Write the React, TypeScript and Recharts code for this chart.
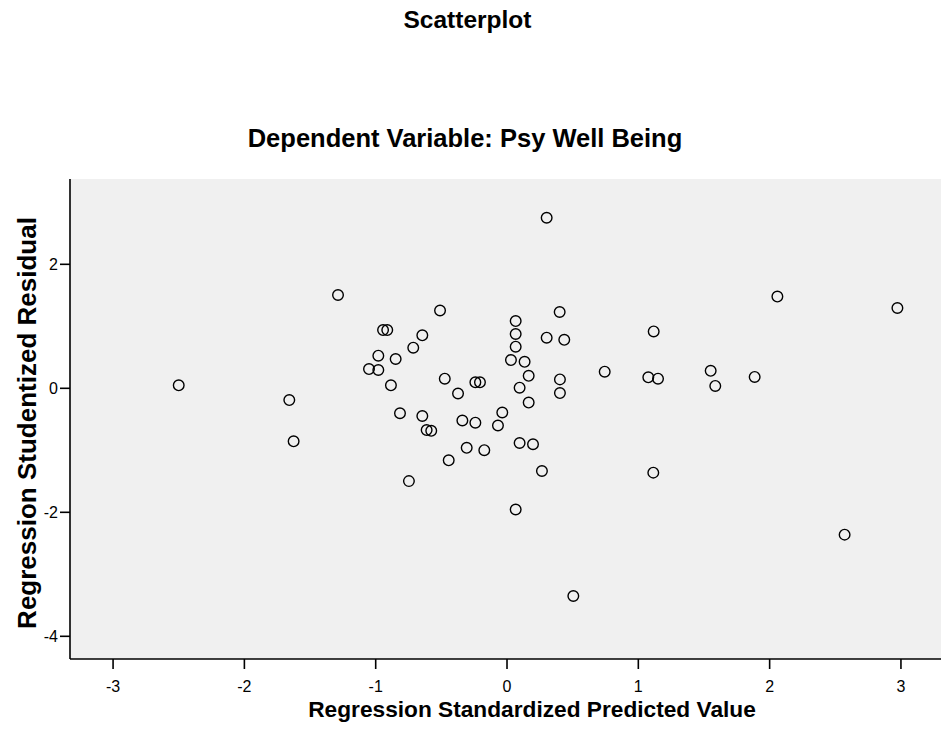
import React from 'react';
import { ScatterChart, Scatter, XAxis, YAxis, CartesianGrid } from 'recharts';

const predicted = [
  -2.5, -1.658, -1.625, -1.287, -1.051, -0.98, -0.98, -0.944, -0.912, -0.884,
  -0.848, -0.815, -0.747, -0.714, -0.645, -0.645, -0.612, -0.577, -0.51, -0.474,
  -0.444, -0.373, -0.34, -0.307, -0.241, -0.241, -0.206, -0.173, -0.069, -0.036,
  0.03, 0.066, 0.066, 0.066, 0.066, 0.096, 0.096, 0.134, 0.165, 0.165,
  0.198, 0.266, 0.302, 0.302, 0.401, 0.403, 0.403, 0.436, 0.505, 0.744,
  1.076, 1.117, 1.114, 1.15, 1.551, 1.586, 1.886, 2.059, 2.571, 2.973,
];
const residual = [
  0.048, -0.189, -0.855, 1.505, 0.311, 0.526, 0.295, 0.94, 0.94, 0.048,
  0.473, -0.402, -1.497, 0.655, 0.855, -0.447, -0.673, -0.685, 1.255, 0.155,
  -1.161, -0.084, -0.519, -0.96, 0.097, -0.555, 0.097, -0.998, -0.6, -0.39,
  0.456, 1.085, 0.876, 0.671, -1.955, 0.01, -0.882, 0.427, 0.202, -0.23,
  -0.902, -1.334, 2.751, 0.816, 1.231, 0.144, -0.077, 0.782, -3.35, 0.268,
  0.177, 0.918, -1.36, 0.155, 0.282, 0.039, 0.184, 1.479, -2.36, 1.295,
];
const xTicks = [-3, -2, -1, 0, 1, 2, 3];
const yTicks = [-4, -2, 0, 2];
const xDomain = [-3.328, 3.305];
const yDomain = [-4.366, 3.376];

const title = 'Scatterplot';
const subtitle = 'Dependent Variable: Psy Well Being';
const xLabel = 'Regression Standardized Predicted Value';
const yLabel = 'Regression Studentized Residual';

const data = predicted.map((x, i) => ({ x, y: residual[i] }));

const FONT = "Arial, 'Liberation Sans', sans-serif";

const Ring = (props: any) => {
  const { cx, cy } = props;
  if (cx == null || cy == null) return null;
  return <circle cx={cx} cy={cy} r={5.3} fill="none" stroke="#000" strokeWidth={1.4} />;
};

const XTick = (props: any) => {
  const { x, payload } = props;
  return (
    <text x={x} y={691.5} textAnchor="middle" fontFamily={FONT} fontSize={16} fill="#000">
      {payload.value}
    </text>
  );
};

const YTick = (props: any) => {
  const { y, payload } = props;
  return (
    <text x={58} y={y + 5.7} textAnchor="end" fontFamily={FONT} fontSize={16} fill="#000">
      {payload.value}
    </text>
  );
};

export default function App() {
  return (
    <div style={{ position: 'absolute', left: 0, top: 0, width: 941, height: 737, background: '#fff' }}>
      <ScatterChart width={941} height={737} margin={{ top: 179, right: 0, bottom: 0, left: 0 }}>
        <CartesianGrid fill="#F0F0F0" horizontal={false} vertical={false} />
        <XAxis
          xAxisId="top"
          orientation="top"
          type="number"
          dataKey="x"
          domain={xDomain}
          allowDataOverflow
          height={0}
          tick={false}
          tickLine={false}
          axisLine={{ stroke: '#000', strokeWidth: 1.6 }}
        />
        <XAxis
          type="number"
          dataKey="x"
          domain={xDomain}
          ticks={xTicks}
          allowDataOverflow
          height={78}
          tickSize={10}
          tick={<XTick />}
          tickLine={{ stroke: '#000', strokeWidth: 1.6 }}
          axisLine={{ stroke: '#000', strokeWidth: 1.6 }}
        />
        <YAxis
          type="number"
          dataKey="y"
          domain={yDomain}
          ticks={yTicks}
          allowDataOverflow
          width={70}
          tickSize={10}
          tick={<YTick />}
          tickLine={{ stroke: '#000', strokeWidth: 1.6 }}
          axisLine={{ stroke: '#000', strokeWidth: 1.6 }}
        />
        <Scatter data={data} shape={<Ring />} isAnimationActive={false} />
      </ScatterChart>
      <svg
        width={941}
        height={737}
        style={{ position: 'absolute', left: 0, top: 0, pointerEvents: 'none' }}
      >
        <text x={467.5} y={28.3} textAnchor="middle" fontFamily={FONT} fontWeight="bold" fontSize={24.5} fill="#000">
          {title}
        </text>
        <text x={465} y={146.7} textAnchor="middle" fontFamily={FONT} fontWeight="bold" fontSize={25.5} fill="#000">
          {subtitle}
        </text>
        <text x={532} y={716.7} textAnchor="middle" fontFamily={FONT} fontWeight="bold" fontSize={22.7} fill="#000">
          {xLabel}
        </text>
        <text
          x={0}
          y={0}
          transform="translate(36 423) rotate(-90)"
          textAnchor="middle"
          fontFamily={FONT}
          fontWeight="bold"
          fontSize={26}
          fill="#000"
        >
          {yLabel}
        </text>
      </svg>
    </div>
  );
}
